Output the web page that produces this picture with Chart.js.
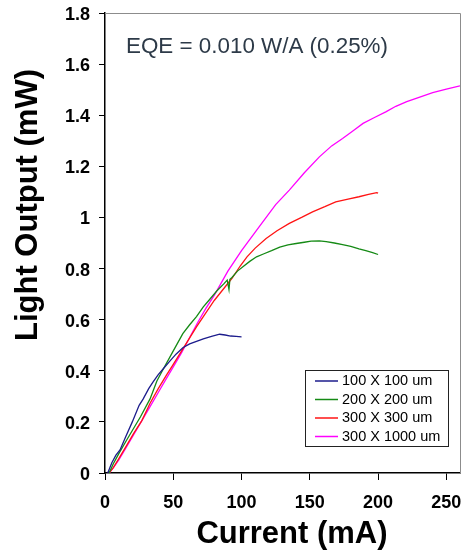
<!DOCTYPE html>
<html>
<head>
<meta charset="utf-8">
<title>Light Output vs Current</title>
<script src="https://cdn.jsdelivr.net/npm/chart.js@4.4.0/dist/chart.umd.min.js"></script>
<style>
  html, body { margin: 0; padding: 0; background: #fff; }
  canvas { display: block; }
</style>
</head>
<body>
<canvas id="liChart" width="466" height="557"></canvas>
<script>
// L-I curves for four device sizes (current in mA, output in mW)
const sizes = ['100 X 100 um', '200 X 200 um', '300 X 300 um', '300 X 1000 um'];
const colors = ['#1c1c8c', '#158a15', '#ff1414', '#ff00ff'];

const current100 = [2, 5, 8, 11, 15, 20, 25, 28, 32, 35, 39, 43, 47, 52, 57, 62, 67, 72, 78, 84, 88, 92, 96, 100];
const output100 = [0, 0.04, 0.07, 0.09, 0.14, 0.2, 0.265, 0.29, 0.33, 0.355, 0.385, 0.41, 0.435, 0.465, 0.49, 0.505, 0.515, 0.525, 0.535, 0.543, 0.54, 0.536, 0.535, 0.533];

const current200 = [3, 6, 10, 16, 21, 26, 33, 38, 42, 49, 57, 62, 67, 72, 76, 82, 87, 89.5, 90.8, 91.5, 93, 97, 101, 106, 111, 116, 122, 128, 134, 140, 146, 151, 157, 162, 168, 174, 180, 186, 191, 196, 200];
const output200 = [0, 0.035, 0.075, 0.13, 0.175, 0.22, 0.29, 0.36, 0.4, 0.468, 0.545, 0.58, 0.612, 0.65, 0.675, 0.713, 0.74, 0.755, 0.718, 0.758, 0.765, 0.79, 0.807, 0.828, 0.846, 0.857, 0.87, 0.884, 0.893, 0.898, 0.903, 0.907, 0.908, 0.905, 0.9, 0.894, 0.887, 0.877, 0.87, 0.862, 0.855];

const current300 = [3, 6, 10, 15, 21, 27, 33, 39, 45, 50, 55, 61, 67, 73, 80, 86, 93, 99, 104, 110, 118, 126, 135, 144, 152, 161, 169, 178, 186, 193, 199, 200];
const output300 = [0, 0.02, 0.055, 0.1, 0.155, 0.205, 0.273, 0.33, 0.383, 0.425, 0.468, 0.52, 0.572, 0.62, 0.675, 0.715, 0.762, 0.81, 0.846, 0.88, 0.918, 0.948, 0.977, 1.0, 1.022, 1.042, 1.061, 1.072, 1.081, 1.09, 1.097, 1.095];

const current1000 = [3, 6, 10, 15, 21, 27, 33, 39, 45, 50, 56, 62, 68, 74, 80, 90, 100, 113, 125, 135, 146, 157, 166, 174, 182, 189, 197, 206, 213, 221, 230, 240, 250, 260];
const output1000 = [0, 0.02, 0.05, 0.095, 0.15, 0.205, 0.26, 0.315, 0.37, 0.415, 0.47, 0.53, 0.59, 0.645, 0.695, 0.79, 0.87, 0.964, 1.05, 1.107, 1.175, 1.237, 1.28, 1.309, 1.34, 1.368, 1.39, 1.414, 1.435, 1.453, 1.47, 1.488, 1.502, 1.515];

const currentTicks = [0, 50, 100, 150, 200, 250];
const outputTicks = [0, 0.2, 0.4, 0.6, 0.8, 1, 1.2, 1.4, 1.6, 1.8];

const seriesX = [current100, current200, current300, current1000];
const seriesY = [output100, output200, output300, output1000];

const FONT = "'Liberation Sans', Arial, Helvetica, sans-serif";

const datasets = sizes.map((label, i) => ({
    label: label,
    data: seriesX[i].map((x, j) => ({ x: x, y: seriesY[i][j] })),
    borderColor: colors[i],
    backgroundColor: colors[i],
    borderWidth: 1.3,
    pointRadius: 0,
    showLine: true,
    fill: false,
    tension: 0
}));

// gray frame on top/right, axis titles, EQE note and the boxed legend
const decorations = {
    id: 'decorations',
    afterDraw(chart) {
        const ctx = chart.ctx;
        const area = chart.chartArea;
        ctx.save();

        ctx.strokeStyle = '#8c8c8c';
        ctx.lineWidth = 1;
        ctx.beginPath();
        ctx.moveTo(area.left, area.top + 0.5);
        ctx.lineTo(area.right + 0.5, area.top + 0.5);
        ctx.lineTo(area.right + 0.5, area.bottom);
        ctx.stroke();

        ctx.fillStyle = '#000';
        ctx.font = 'bold 31px ' + FONT;
        ctx.textAlign = 'center';
        ctx.textBaseline = 'middle';
        ctx.fillText('Current (mA)', 292, 534);

        ctx.save();
        ctx.translate(28, 205);
        ctx.rotate(-Math.PI / 2);
        ctx.fillText('Light Output (mW)', 0, 0);
        ctx.restore();

        ctx.fillStyle = '#2d3a48';
        ctx.font = '22.4px ' + FONT;
        ctx.textAlign = 'left';
        ctx.fillText('EQE = 0.010 W/A (0.25%)', 126, 47);

        // legend
        const box = { x: 305.5, y: 370.5, w: 143, h: 76 };
        ctx.fillStyle = '#fff';
        ctx.fillRect(box.x, box.y, box.w, box.h);
        ctx.strokeStyle = '#222';
        ctx.lineWidth = 1;
        ctx.strokeRect(box.x, box.y, box.w, box.h);
        ctx.font = '14.5px ' + FONT;
        chart.data.datasets.forEach((ds, i) => {
            const y = 381 + i * 18.5;
            ctx.strokeStyle = ds.borderColor;
            ctx.lineWidth = 1.5;
            ctx.beginPath();
            ctx.moveTo(315, y);
            ctx.lineTo(338, y);
            ctx.stroke();
            ctx.fillStyle = '#000';
            ctx.fillText(ds.label, 342, y);
        });

        ctx.restore();
    }
};

const ctx = document.getElementById('liChart').getContext('2d');

let chart = new Chart(ctx, {
    type: 'scatter',
    data: { datasets: datasets },
    plugins: [decorations],
    options: {
        responsive: false,
        animation: false,
        devicePixelRatio: 1,
        layout: { padding: { top: 13, right: 6, left: 0, bottom: 0 } },
        plugins: {
            legend: { display: false },
            tooltip: { enabled: false }
        },
        scales: {
            x: {
                type: 'linear',
                min: 0,
                max: 260,
                afterBuildTicks: s => { s.ticks = currentTicks.map(v => ({ value: v })); },
                afterFit: s => {
                    s.height = 84;
                    s.paddingLeft = 0;
                    s.paddingRight = 0;
                },
                grid: { drawOnChartArea: false, drawTicks: true, tickLength: 7, color: '#000' },
                border: { color: '#000', width: 1.5 },
                ticks: {
                    color: '#000',
                    padding: 12,
                    maxRotation: 0,
                    font: { family: FONT, size: 18, weight: 'bold' },
                    callback: v => String(v)
                }
            },
            y: {
                type: 'linear',
                min: 0,
                max: 1.8,
                afterBuildTicks: s => { s.ticks = outputTicks.map(v => ({ value: v })); },
                afterFit: s => {
                    s.width = 105;
                    s.paddingTop = 0;
                    s.paddingBottom = 0;
                },
                grid: { drawOnChartArea: false, drawTicks: true, tickLength: 6, color: '#000' },
                border: { color: '#000', width: 1.5 },
                ticks: {
                    color: '#000',
                    padding: 9,
                    labelOffset: 2,
                    font: { family: FONT, size: 18, weight: 'bold' },
                    callback: v => String(Number(v.toFixed(1)))
                }
            }
        }
    }
});
</script>
</body>
</html>
